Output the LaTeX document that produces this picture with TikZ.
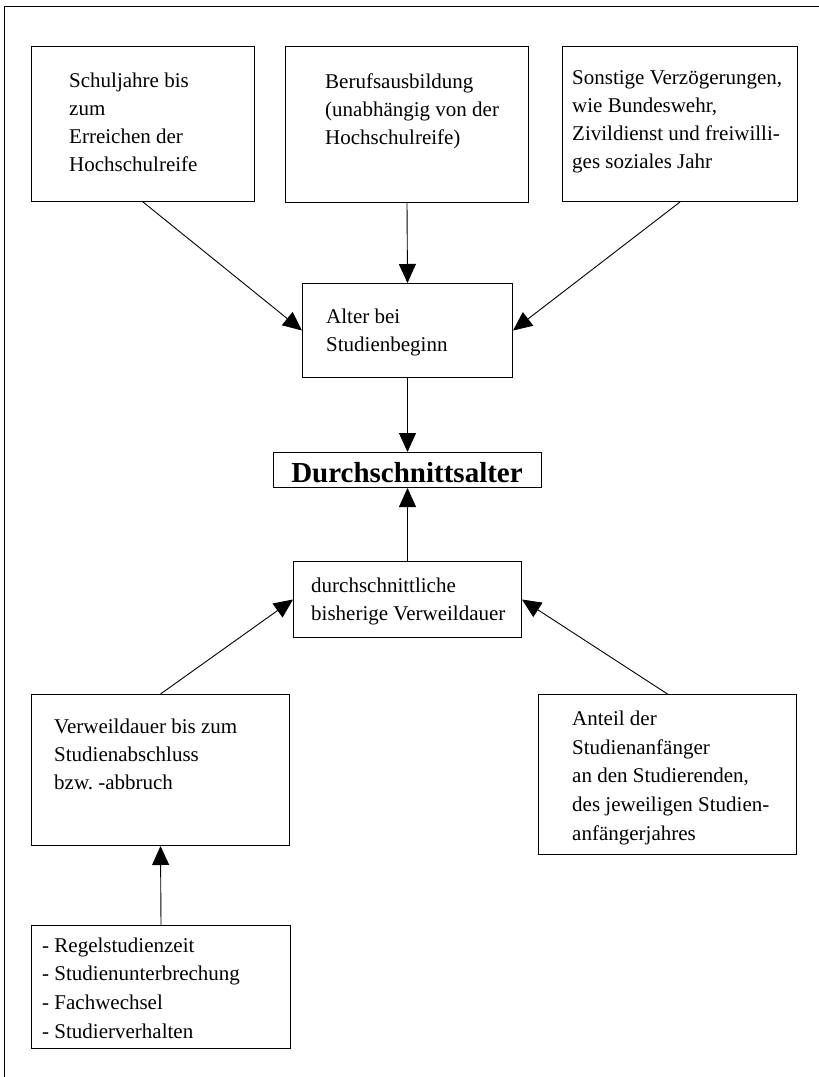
\documentclass[tikz,border=0pt]{standalone}
\usepackage{fontspec}
\setmainfont{Liberation Serif}
\usetikzlibrary{arrows.meta}
\begin{document}
\begin{tikzpicture}[x=1bp,y=-1bp,
  box/.style={draw, line width=1bp, rectangle, inner sep=0pt, anchor=north west},
  txt/.style={anchor=north west, inner sep=0pt, align=left, font=\fontsize{21bp}{28bp}\selectfont},
  arr/.style={line width=0.9bp, -{Triangle[length=19bp,width=17bp]}}]
\useasboundingbox (0,0) rectangle (819,1077);
\draw[line width=1bp] (4,1077) -- (4,6) -- (819,6);
% boxes
\node[box, minimum width=223bp, minimum height=155bp] (b1) at (31,46) {};
\node[box, minimum width=243bp, minimum height=156bp] (b2) at (285,46) {};
\node[box, minimum width=235bp, minimum height=155bp] (b3) at (562,46) {};
\node[box, minimum width=210bp, minimum height=94bp] (alter) at (302,283) {};
\node[box, minimum width=268bp, minimum height=35bp] (durch) at (273,452) {};
\node[box, minimum width=228bp, minimum height=76bp] (verw) at (293,561) {};
\node[box, minimum width=258bp, minimum height=151bp] (ll) at (31,694) {};
\node[box, minimum width=258bp, minimum height=160bp] (lr) at (538,694) {};
\node[box, minimum width=259bp, minimum height=123bp] (bot) at (31,925) {};
% texts
\node[txt] (t1) at (69,72) {\rule{0pt}{15bp}Schuljahre bis\\zum\\Erreichen der\\Hochschulreife};
\node[txt] (t2) at (325,73) {\rule{0pt}{15bp}Berufsausbildung\\(unabhängig von der\\Hochschulreife)};
\node[txt] (t3) at (572,69) {\rule{0pt}{15bp}Sonstige Verzögerungen,\\wie Bundeswehr,\\Zivildienst und freiwilli-\\ges soziales Jahr};
\node[txt] (t4) at (326,308) {\rule{0pt}{15bp}Alter bei\\Studienbeginn};
\node[anchor=base, inner sep=0pt, font=\fontsize{29bp}{34bp}\selectfont\bfseries] (t5) at (407,482) {Durchschnittsalter};
\node[txt] (t6) at (311,577) {\rule{0pt}{15bp}durchschnittliche\\bisherige Verweildauer};
\node[txt] (t7) at (54,718) {\rule{0pt}{15bp}Verweildauer bis zum\\Studienabschluss\\bzw.\ -abbruch};
\node[txt, font=\fontsize{21bp}{28.8bp}\selectfont] (t8) at (572,710) {\rule{0pt}{15bp}Anteil der\\Studienanfänger\\an den Studierenden,\\des jeweiligen Studien-\\anfängerjahres};
\node[txt, font=\fontsize{21bp}{28.7bp}\selectfont] (t9) at (42,937) {\rule{0pt}{15bp}- Regelstudienzeit\\- Studienunterbrechung\\- Fachwechsel\\- Studierverhalten};
% connectors
\draw[arr] (b1.south) -- (alter.west);
\draw[arr] (b2.south) -- (alter.north);
\draw[arr] (b3.south) -- (alter.east);
\draw[arr] (alter.south) -- (durch.north);
\draw[arr] (verw.north) -- (durch.south);
\draw[arr] (ll.north) -- (verw.west);
\draw[arr] (lr.north) -- (verw.east);
\draw[arr] (bot.north) -- (ll.south);
\end{tikzpicture}
\end{document}
